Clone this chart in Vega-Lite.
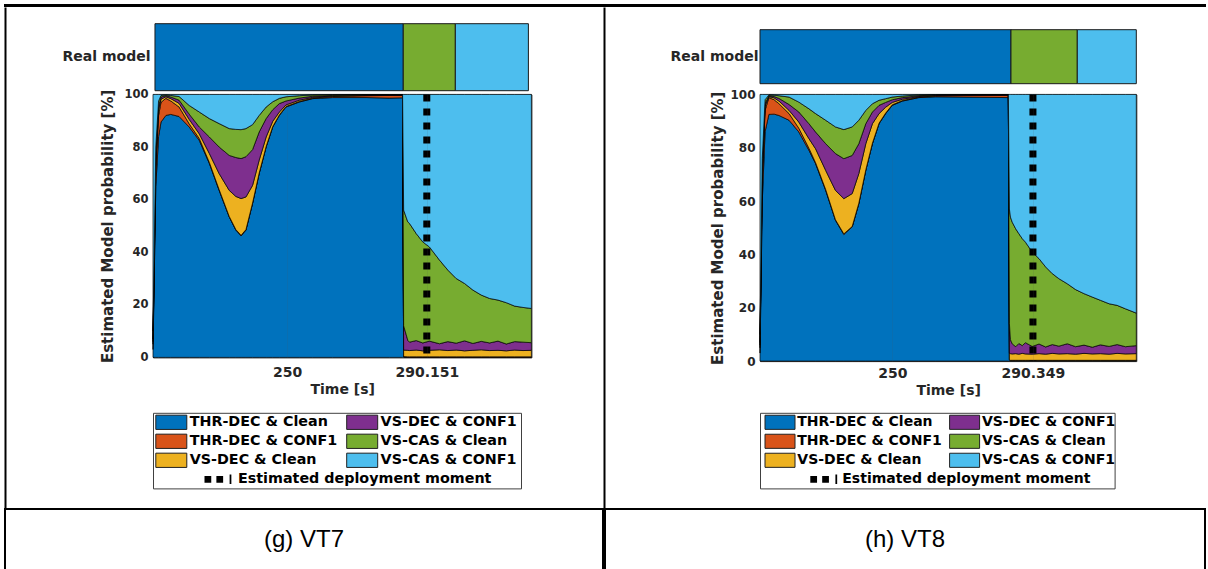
{
  "$schema": "https://vega.github.io/schema/vega-lite/v6.json",
  "padding": {"left": 4, "top": 4, "right": 0, "bottom": 0},
  "background": "white",
  "config": {"view": {"stroke": null}, "font": "DejaVu Sans"},
  "datasets": {
    "models": [
      {"key": "a", "model": "THR-DEC & Clean", "k": 1},
      {"key": "b", "model": "THR-DEC & CONF1", "k": 2},
      {"key": "c", "model": "VS-DEC & Clean", "k": 3},
      {"key": "d", "model": "VS-DEC & CONF1", "k": 4},
      {"key": "e", "model": "VS-CAS & Clean", "k": 5},
      {"key": "f", "model": "VS-CAS & CONF1", "k": 6}
    ],
    "legend": [
      {"label": "THR-DEC & Clean", "legendCol": 0, "legendRow": 1},
      {"label": "THR-DEC & CONF1", "legendCol": 0, "legendRow": 2},
      {"label": "VS-DEC & Clean", "legendCol": 0, "legendRow": 3},
      {"label": "VS-DEC & CONF1", "legendCol": 1, "legendRow": 1},
      {"label": "VS-CAS & Clean", "legendCol": 1, "legendRow": 2},
      {"label": "VS-CAS & CONF1", "legendCol": 1, "legendRow": 3},
      {"label": "Estimated deployment moment", "legendCol": 0, "legendRow": 4}
    ],
    "strip1": [
      {"model": "THR-DEC & Clean", "start": 212.07, "end": 283.39},
      {"model": "VS-CAS & Clean", "start": 283.39, "end": 298.35},
      {"model": "VS-CAS & CONF1", "start": 298.35, "end": 319.34}
    ],
    "strip2": [
      {"model": "THR-DEC & Clean", "start": 212.05, "end": 284.05},
      {"model": "VS-CAS & Clean", "start": 284.05, "end": 303.07},
      {"model": "VS-CAS & CONF1", "start": 303.07, "end": 320.0}
    ],
    "deploy1": [{"t": 290.151}],
    "deploy2": [{"t": 290.349}],
    "p1": [
      {"t": 211.5, "a": 3, "b": 2, "c": 1, "d": 1, "e": 3, "f": 90},
      {"t": 212.3, "a": 65, "b": 7, "c": 2, "d": 2, "e": 4, "f": 20},
      {"t": 213.1, "a": 84, "b": 8, "c": 2, "d": 1.5, "e": 2, "f": 2.5},
      {"t": 213.8, "a": 89.5, "b": 7.5, "c": 1.2, "d": 0.8, "e": 0.6, "f": 0.4},
      {"t": 215.2, "a": 92, "b": 6.5, "c": 0.6, "d": 0.4, "e": 0.3, "f": 0.2},
      {"t": 216.6, "a": 92.4, "b": 5.1, "c": 0.9, "d": 0.6, "e": 0.6, "f": 0.4},
      {"t": 219.0, "a": 91.6, "b": 3.6, "c": 1.4, "d": 1.2, "e": 1.4, "f": 0.8},
      {"t": 221.9, "a": 87.6, "b": 1.2, "c": 1.7, "d": 2.0, "e": 3.3, "f": 4.2},
      {"t": 224.8, "a": 82.5, "b": 0.7, "c": 1.8, "d": 2.6, "e": 5.7, "f": 6.7},
      {"t": 227.7, "a": 73.7, "b": 0.4, "c": 3.4, "d": 6.3, "e": 7.0, "f": 9.2},
      {"t": 230.5, "a": 63.5, "b": 0.3, "c": 6.1, "d": 10.1, "e": 8.9, "f": 11.1},
      {"t": 233.4, "a": 53.4, "b": 0.2, "c": 9.9, "d": 13.3, "e": 10.2, "f": 13.0},
      {"t": 235.3, "a": 48.4, "b": 0.2, "c": 12.6, "d": 14.8, "e": 10.7, "f": 13.3},
      {"t": 236.8, "a": 46.2, "b": 0.2, "c": 14.0, "d": 15.2, "e": 11.0, "f": 13.4},
      {"t": 238.2, "a": 48.4, "b": 0.2, "c": 12.4, "d": 15.3, "e": 10.7, "f": 13.0},
      {"t": 240.1, "a": 58.5, "b": 0.2, "c": 6.7, "d": 13.6, "e": 9.5, "f": 11.5},
      {"t": 242.0, "a": 69.9, "b": 0.2, "c": 4.9, "d": 10.7, "e": 6.3, "f": 8.0},
      {"t": 244.0, "a": 80.0, "b": 0.2, "c": 3.6, "d": 7.0, "e": 4.4, "f": 4.8},
      {"t": 245.9, "a": 87.6, "b": 0.2, "c": 2.0, "d": 4.4, "e": 3.0, "f": 2.8},
      {"t": 247.8, "a": 92.0, "b": 0.2, "c": 1.1, "d": 3.2, "e": 2.0, "f": 1.5},
      {"t": 249.7, "a": 95.2, "b": 0.2, "c": 0.6, "d": 1.5, "e": 1.6, "f": 0.9},
      {"t": 253.5, "a": 97.1, "b": 0.2, "c": 0.5, "d": 0.8, "e": 0.9, "f": 0.5},
      {"t": 257.4, "a": 98.4, "b": 0.2, "c": 0.3, "d": 0.4, "e": 0.5, "f": 0.2},
      {"t": 263.1, "a": 98.8, "b": 0.4, "c": 0.2, "d": 0.2, "e": 0.3, "f": 0.1},
      {"t": 272.7, "a": 98.8, "b": 0.7, "c": 0.15, "d": 0.15, "e": 0.15, "f": 0.05},
      {"t": 279.4, "a": 98.6, "b": 1.0, "c": 0.1, "d": 0.1, "e": 0.15, "f": 0.05},
      {"t": 283.2, "a": 98.7, "b": 0.9, "c": 0.1, "d": 0.1, "e": 0.15, "f": 0.05},
      {"t": 283.5, "a": 0.2, "b": 0.1, "c": 2.5, "d": 9.2, "e": 44.0, "f": 44.0},
      {"t": 284.7, "a": 0.1, "b": 0.1, "c": 2.5, "d": 3.8, "e": 45.0, "f": 48.5},
      {"t": 285.2, "a": 0.1, "b": 0.1, "c": 2.4, "d": 3.2, "e": 45.1, "f": 49.1},
      {"t": 287.1, "a": 0.1, "b": 0.1, "c": 2.6, "d": 3.6, "e": 40.7, "f": 52.9},
      {"t": 289.0, "a": 0.1, "b": 0.1, "c": 2.3, "d": 3.0, "e": 38.4, "f": 56.1},
      {"t": 290.9, "a": 0.1, "b": 0.1, "c": 2.5, "d": 3.5, "e": 35.8, "f": 58.0},
      {"t": 293.8, "a": 0.1, "b": 0.1, "c": 2.7, "d": 2.3, "e": 31.8, "f": 63.0},
      {"t": 296.2, "a": 0.1, "b": 0.1, "c": 2.4, "d": 3.4, "e": 27.2, "f": 66.8},
      {"t": 298.6, "a": 0.1, "b": 0.1, "c": 2.6, "d": 2.6, "e": 24.6, "f": 70.0},
      {"t": 301.0, "a": 0.1, "b": 0.1, "c": 2.3, "d": 3.8, "e": 21.8, "f": 71.9},
      {"t": 303.4, "a": 0.1, "b": 0.1, "c": 2.5, "d": 2.6, "e": 20.3, "f": 74.4},
      {"t": 305.8, "a": 0.1, "b": 0.1, "c": 2.7, "d": 3.2, "e": 17.6, "f": 76.3},
      {"t": 308.2, "a": 0.1, "b": 0.1, "c": 2.4, "d": 2.9, "e": 16.9, "f": 77.6},
      {"t": 310.6, "a": 0.1, "b": 0.1, "c": 2.5, "d": 3.5, "e": 15.6, "f": 78.2},
      {"t": 313.0, "a": 0.1, "b": 0.1, "c": 2.3, "d": 2.6, "e": 15.7, "f": 79.2},
      {"t": 315.4, "a": 0.1, "b": 0.1, "c": 2.6, "d": 3.2, "e": 13.5, "f": 80.5},
      {"t": 317.8, "a": 0.1, "b": 0.1, "c": 2.4, "d": 3.2, "e": 13.2, "f": 81.0},
      {"t": 320.2, "a": 0.1, "b": 0.1, "c": 2.5, "d": 2.9, "e": 13.0, "f": 81.4}
    ],
    "p2": [
      {"t": 212.05, "a": 3, "b": 2, "c": 1, "d": 1, "e": 3, "f": 90},
      {"t": 212.7, "a": 60, "b": 8, "c": 2, "d": 2, "e": 4, "f": 24},
      {"t": 213.5, "a": 86, "b": 8, "c": 1.5, "d": 1, "e": 1.5, "f": 2},
      {"t": 214.6, "a": 92.5, "b": 6.3, "c": 0.4, "d": 0.3, "e": 0.3, "f": 0.2},
      {"t": 216.1, "a": 92.6, "b": 5.4, "c": 0.7, "d": 0.5, "e": 0.5, "f": 0.3},
      {"t": 217.5, "a": 92.1, "b": 4.4, "c": 1.0, "d": 1.0, "e": 1.0, "f": 0.5},
      {"t": 220.4, "a": 90.3, "b": 2.5, "c": 1.2, "d": 2.2, "e": 2.8, "f": 1.0},
      {"t": 223.2, "a": 85.9, "b": 1.4, "c": 2.3, "d": 3.8, "e": 3.7, "f": 2.9},
      {"t": 226.1, "a": 79.0, "b": 0.8, "c": 3.6, "d": 5.6, "e": 5.6, "f": 5.4},
      {"t": 228.0, "a": 74.0, "b": 0.4, "c": 5.2, "d": 6.3, "e": 6.9, "f": 7.2},
      {"t": 230.9, "a": 64.0, "b": 0.3, "c": 7.2, "d": 10.0, "e": 8.8, "f": 9.7},
      {"t": 233.7, "a": 52.8, "b": 0.2, "c": 11.0, "d": 13.8, "e": 10.0, "f": 12.2},
      {"t": 236.1, "a": 47.5, "b": 0.2, "c": 13.2, "d": 15.0, "e": 10.9, "f": 13.2},
      {"t": 238.5, "a": 50.3, "b": 0.2, "c": 12.3, "d": 14.3, "e": 10.7, "f": 12.2},
      {"t": 240.4, "a": 59.0, "b": 0.2, "c": 11.1, "d": 11.2, "e": 8.8, "f": 9.7},
      {"t": 242.4, "a": 71.5, "b": 0.2, "c": 9.8, "d": 7.5, "e": 5.0, "f": 6.0},
      {"t": 244.3, "a": 81.5, "b": 0.2, "c": 7.3, "d": 4.4, "e": 3.1, "f": 3.5},
      {"t": 246.2, "a": 89.0, "b": 0.2, "c": 3.6, "d": 3.1, "e": 1.9, "f": 2.2},
      {"t": 248.1, "a": 92.8, "b": 0.2, "c": 2.2, "d": 1.8, "e": 1.4, "f": 1.6},
      {"t": 250.0, "a": 95.9, "b": 0.2, "c": 0.9, "d": 1.0, "e": 1.0, "f": 1.0},
      {"t": 252.9, "a": 97.5, "b": 0.2, "c": 0.5, "d": 0.6, "e": 0.6, "f": 0.6},
      {"t": 257.6, "a": 98.8, "b": 0.2, "c": 0.2, "d": 0.3, "e": 0.3, "f": 0.2},
      {"t": 262.4, "a": 99.1, "b": 0.3, "c": 0.2, "d": 0.2, "e": 0.1, "f": 0.1},
      {"t": 272.0, "a": 99.0, "b": 0.6, "c": 0.1, "d": 0.15, "e": 0.1, "f": 0.05},
      {"t": 283.3, "a": 98.8, "b": 0.8, "c": 0.1, "d": 0.15, "e": 0.1, "f": 0.05},
      {"t": 283.6, "a": 0.4, "b": 0.1, "c": 2.5, "d": 11.0, "e": 43.0, "f": 43.0},
      {"t": 283.9, "a": 0.2, "b": 0.1, "c": 2.5, "d": 5.2, "e": 46.0, "f": 46.0},
      {"t": 284.4, "a": 0.2, "b": 0.1, "c": 2.4, "d": 3.8, "e": 45.6, "f": 47.9},
      {"t": 285.4, "a": 0.2, "b": 0.1, "c": 2.5, "d": 2.6, "e": 44.2, "f": 50.4},
      {"t": 286.3, "a": 0.2, "b": 0.1, "c": 2.3, "d": 4.0, "e": 41.2, "f": 52.2},
      {"t": 287.3, "a": 0.2, "b": 0.1, "c": 2.6, "d": 2.9, "e": 40.1, "f": 54.1},
      {"t": 288.2, "a": 0.2, "b": 0.1, "c": 2.4, "d": 4.2, "e": 37.7, "f": 55.4},
      {"t": 290.15, "a": 0.2, "b": 0.1, "c": 2.3, "d": 2.9, "e": 35.4, "f": 59.1},
      {"t": 292.1, "a": 0.2, "b": 0.1, "c": 2.5, "d": 3.6, "e": 32.0, "f": 61.6},
      {"t": 294.0, "a": 0.2, "b": 0.1, "c": 2.3, "d": 2.7, "e": 30.0, "f": 64.7},
      {"t": 295.9, "a": 0.2, "b": 0.1, "c": 2.6, "d": 3.3, "e": 26.6, "f": 67.2},
      {"t": 297.8, "a": 0.2, "b": 0.1, "c": 2.4, "d": 2.9, "e": 25.3, "f": 69.1},
      {"t": 300.2, "a": 0.2, "b": 0.1, "c": 2.5, "d": 3.7, "e": 22.5, "f": 71.0},
      {"t": 302.6, "a": 0.2, "b": 0.1, "c": 2.3, "d": 2.8, "e": 21.4, "f": 73.2},
      {"t": 305.0, "a": 0.2, "b": 0.1, "c": 2.6, "d": 3.1, "e": 19.3, "f": 74.7},
      {"t": 307.4, "a": 0.2, "b": 0.1, "c": 2.4, "d": 2.5, "e": 18.8, "f": 76.0},
      {"t": 309.7, "a": 0.2, "b": 0.1, "c": 2.5, "d": 3.3, "e": 16.7, "f": 77.2},
      {"t": 312.2, "a": 0.2, "b": 0.1, "c": 2.3, "d": 2.9, "e": 16.0, "f": 78.5},
      {"t": 314.5, "a": 0.2, "b": 0.1, "c": 2.6, "d": 3.3, "e": 14.7, "f": 79.1},
      {"t": 316.9, "a": 0.2, "b": 0.1, "c": 2.4, "d": 2.7, "e": 14.2, "f": 80.4},
      {"t": 320.0, "a": 0.2, "b": 0.1, "c": 2.5, "d": 3.0, "e": 12.2, "f": 82.0}
    ]
  },
  "spacing": 0,
  "vconcat": [
    {
      "width": 1200, "height": 1,
      "view": {"stroke": "black", "strokeWidth": 2},
      "data": {"values": [{"v": 0}]},
      "mark": {"type": "point", "opacity": 0, "size": 0}
    },
    {
      "spacing": 20,
      "hconcat": [
        {
          "width": 37, "height": 501,
          "data": {"values": [{"v": 0}]},
          "mark": {"type": "point", "opacity": 0, "size": 0},
          "encoding": {"y": {"field": "v", "type": "quantitative", "scale": {"domain": [0, 1]},
            "axis": {"domain": true, "domainColor": "black", "domainWidth": 2, "ticks": false, "labels": false, "grid": false, "title": null}}}
        },
        {
          "spacing": 3.7,
          "bounds": "flush",
          "vconcat": [
            {"width": 1, "height": 12.6, "data": {"values": [{"v": 0}]}, "mark": {"type": "point", "opacity": 0, "size": 0}},
            {
              "width": 378.4, "height": 67,
              "data": {"name": "strip1"},
              "mark": {"type": "rect", "stroke": "#1a1a1a", "strokeWidth": 1},
              "encoding": {
                "x": {"field": "start", "type": "quantitative", "scale": {"domain": [211.5, 320.2], "nice": false, "zero": false}, "axis": null},
                "x2": {"field": "end"},
                "y": {"datum": "Real model", "type": "nominal", "scale": {"paddingInner": 0, "paddingOuter": 0},
                  "axis": {"title": null, "ticks": false, "domain": false, "labelFont": "DejaVu Sans", "labelFontWeight": "bold", "labelFontSize": 14, "labelColor": "#262626", "labelPadding": 3}},
                "color": {"field": "model", "type": "nominal", "legend": null,
                  "scale": {"domain": ["THR-DEC & Clean", "THR-DEC & CONF1", "VS-DEC & Clean", "VS-DEC & CONF1", "VS-CAS & Clean", "VS-CAS & CONF1"], "range": ["#0072BD", "#D95319", "#EDB120", "#7E2F8E", "#77AC30", "#4DBEEE"]}}
              }
            },
            {
              "width": 378.4, "height": 263,
              "view": {"stroke": "#262626", "strokeWidth": 1},
              "layer": [
                {
                  "data": {"name": "p1"},
                  "transform": [
                    {"fold": ["a", "b", "c", "d", "e", "f"], "as": ["key", "p"]},
                    {"lookup": "key", "from": {"data": {"name": "models"}, "key": "key", "fields": ["model", "k"]}}
                  ],
                  "mark": {"type": "area", "stroke": "black", "strokeWidth": 0.7, "interpolate": "linear"},
                  "encoding": {
                    "x": {"field": "t", "type": "quantitative", "scale": {"domain": [211.5, 320.2], "nice": false, "zero": false},
                      "axis": {"values": [250, 290.151], "format": ".3~f", "title": "Time [s]", "labelFontSize": 14, "labelFontWeight": "bold", "labelColor": "#262626", "titleFontSize": 14, "titleFontWeight": "bold", "titleColor": "#262626", "ticks": false, "domain": false, "grid": true, "gridColor": "#555555", "gridOpacity": 0.12, "labelPadding": 8, "titlePadding": 3, "labelFlush": false, "zindex": 1}},
                    "y": {"field": "p", "type": "quantitative", "stack": "zero", "scale": {"domain": [0, 100], "nice": false},
                      "axis": {"values": [0, 20, 40, 60, 80, 100], "title": "Estimated Model probability [%]", "titleFontSize": 15, "titleFontWeight": "bold", "titleColor": "#262626", "labelFontSize": 11.5, "labelFontWeight": "bold", "labelColor": "#262626", "ticks": false, "domain": false, "grid": false, "labelPadding": 5, "titlePadding": 8}},
                    "color": {"field": "model", "type": "nominal", "legend": null,
                      "scale": {"domain": ["THR-DEC & Clean", "THR-DEC & CONF1", "VS-DEC & Clean", "VS-DEC & CONF1", "VS-CAS & Clean", "VS-CAS & CONF1"], "range": ["#0072BD", "#D95319", "#EDB120", "#7E2F8E", "#77AC30", "#4DBEEE"]}},
                    "order": {"field": "k", "type": "quantitative"}
                  }
                },
                {
                  "data": {"name": "deploy1"},
                  "mark": {"type": "rule", "color": "black", "strokeWidth": 7, "strokeDash": [7, 7]},
                  "encoding": {"x": {"field": "t", "type": "quantitative"}}
                }
              ]
            },
            {"width": 1, "height": 47.3, "data": {"values": [{"v": 0}]}, "mark": {"type": "point", "opacity": 0, "size": 0}},
            {
              "width": 368, "height": 75.6,
              "view": {"stroke": "#404040", "strokeWidth": 1},
              "data": {"name": "legend"},
              "encoding": {
                "x": {"field": "legendCol", "type": "quantitative", "scale": {"domain": [0, 1], "range": [18.3, 209.2]}, "axis": null},
                "y": {"field": "legendRow", "type": "quantitative", "scale": {"domain": [1, 4], "range": [9.5, 66.5]}, "axis": null}
              },
              "layer": [
                {
                  "transform": [{"filter": {"field": "legendRow", "lt": 4}}],
                  "mark": {"type": "point", "shape": "M-1,-0.46H1V0.46H-1Z", "size": 961, "filled": true, "opacity": 1, "stroke": "#222222", "strokeWidth": 1},
                  "encoding": {"color": {"field": "label", "type": "nominal", "legend": null,
                    "scale": {"domain": ["THR-DEC & Clean", "THR-DEC & CONF1", "VS-DEC & Clean", "VS-DEC & CONF1", "VS-CAS & Clean", "VS-CAS & CONF1"], "range": ["#0072BD", "#D95319", "#EDB120", "#7E2F8E", "#77AC30", "#4DBEEE"]}}}
                },
                {
                  "transform": [{"filter": {"field": "legendRow", "lt": 4}}],
                  "mark": {"type": "text", "align": "left", "baseline": "middle", "dx": 18.4, "font": "DejaVu Sans", "fontWeight": "bold", "fontSize": 14.3, "color": "black"},
                  "encoding": {"text": {"field": "label"}}
                },
                {
                  "transform": [{"filter": {"field": "legendRow", "equal": 4}}],
                  "mark": {"type": "point", "shape": "M-1,-0.25H-0.5V0.25H-1Z M-0.12,-0.25H0.38V0.25H-0.12Z M0.86,-0.35H0.99V0.35H0.86Z", "size": 729, "filled": true, "opacity": 1, "color": "black", "xOffset": 46.7}
                },
                {
                  "transform": [{"filter": {"field": "legendRow", "equal": 4}}],
                  "mark": {"type": "text", "align": "left", "baseline": "middle", "dx": 66.7, "font": "DejaVu Sans", "fontWeight": "bold", "fontSize": 14.3, "color": "black"},
                  "encoding": {"text": {"field": "label"}}
                }
              ]
            }
          ]
        },
        {
          "width": 96, "height": 501,
          "data": {"values": [{"v": 0}]},
          "mark": {"type": "point", "opacity": 0, "size": 0},
          "encoding": {"y": {"field": "v", "type": "quantitative", "scale": {"domain": [0, 1]},
            "axis": {"domain": true, "domainColor": "black", "domainWidth": 2, "ticks": false, "labels": false, "grid": false, "title": null, "offset": -50}}}
        },
        {
          "spacing": 10.7,
          "bounds": "flush",
          "vconcat": [
            {"width": 1, "height": 11.6, "data": {"values": [{"v": 0}]}, "mark": {"type": "point", "opacity": 0, "size": 0}},
            {
              "width": 376.3, "height": 54,
              "data": {"name": "strip2"},
              "mark": {"type": "rect", "stroke": "#1a1a1a", "strokeWidth": 1},
              "encoding": {
                "x": {"field": "start", "type": "quantitative", "scale": {"domain": [212.05, 320.0], "nice": false, "zero": false}, "axis": null},
                "x2": {"field": "end"},
                "y": {"datum": "Real model", "type": "nominal", "scale": {"paddingInner": 0, "paddingOuter": 0},
                  "axis": {"title": null, "ticks": false, "domain": false, "labelFont": "DejaVu Sans", "labelFontWeight": "bold", "labelFontSize": 14, "labelColor": "#262626", "labelPadding": 2}},
                "color": {"field": "model", "type": "nominal", "legend": null,
                  "scale": {"domain": ["THR-DEC & Clean", "THR-DEC & CONF1", "VS-DEC & Clean", "VS-DEC & CONF1", "VS-CAS & Clean", "VS-CAS & CONF1"], "range": ["#0072BD", "#D95319", "#EDB120", "#7E2F8E", "#77AC30", "#4DBEEE"]}}
              }
            },
            {
              "width": 376.3, "height": 266.7,
              "view": {"stroke": "#262626", "strokeWidth": 1},
              "layer": [
                {
                  "data": {"name": "p2"},
                  "transform": [
                    {"fold": ["a", "b", "c", "d", "e", "f"], "as": ["key", "p"]},
                    {"lookup": "key", "from": {"data": {"name": "models"}, "key": "key", "fields": ["model", "k"]}}
                  ],
                  "mark": {"type": "area", "stroke": "black", "strokeWidth": 0.7, "interpolate": "linear"},
                  "encoding": {
                    "x": {"field": "t", "type": "quantitative", "scale": {"domain": [212.05, 320.0], "nice": false, "zero": false},
                      "axis": {"values": [250, 290.349], "format": ".3~f", "title": "Time [s]", "labelFontSize": 14, "labelFontWeight": "bold", "labelColor": "#262626", "titleFontSize": 14, "titleFontWeight": "bold", "titleColor": "#262626", "ticks": false, "domain": false, "grid": true, "gridColor": "#555555", "gridOpacity": 0.12, "labelPadding": 5, "titlePadding": 3, "labelFlush": false, "zindex": 1}},
                    "y": {"field": "p", "type": "quantitative", "stack": "zero", "scale": {"domain": [0, 100], "nice": false},
                      "axis": {"values": [0, 20, 40, 60, 80, 100], "title": "Estimated Model probability [%]", "titleFontSize": 15, "titleFontWeight": "bold", "titleColor": "#262626", "labelFontSize": 12, "labelFontWeight": "bold", "labelColor": "#262626", "ticks": false, "domain": false, "grid": false, "labelPadding": 5, "titlePadding": 4}},
                    "color": {"field": "model", "type": "nominal", "legend": null,
                      "scale": {"domain": ["THR-DEC & Clean", "THR-DEC & CONF1", "VS-DEC & Clean", "VS-DEC & CONF1", "VS-CAS & Clean", "VS-CAS & CONF1"], "range": ["#0072BD", "#D95319", "#EDB120", "#7E2F8E", "#77AC30", "#4DBEEE"]}},
                    "order": {"field": "k", "type": "quantitative"}
                  }
                },
                {
                  "data": {"name": "deploy2"},
                  "mark": {"type": "rule", "color": "black", "strokeWidth": 7, "strokeDash": [7, 7]},
                  "encoding": {"x": {"field": "t", "type": "quantitative"}}
                }
              ]
            },
            {"width": 1, "height": 29.6, "data": {"values": [{"v": 0}]}, "mark": {"type": "point", "opacity": 0, "size": 0}},
            {
              "width": 354.6, "height": 75.6,
              "view": {"stroke": "#404040", "strokeWidth": 1},
              "data": {"name": "legend"},
              "encoding": {
                "x": {"field": "legendCol", "type": "quantitative", "scale": {"domain": [0, 1], "range": [20, 204.6]}, "axis": null},
                "y": {"field": "legendRow", "type": "quantitative", "scale": {"domain": [1, 4], "range": [9.5, 66.5]}, "axis": null}
              },
              "layer": [
                {
                  "transform": [{"filter": {"field": "legendRow", "lt": 4}}],
                  "mark": {"type": "point", "shape": "M-1,-0.47H1V0.47H-1Z", "size": 900, "filled": true, "opacity": 1, "stroke": "#222222", "strokeWidth": 1},
                  "encoding": {"color": {"field": "label", "type": "nominal", "legend": null,
                    "scale": {"domain": ["THR-DEC & Clean", "THR-DEC & CONF1", "VS-DEC & Clean", "VS-DEC & CONF1", "VS-CAS & Clean", "VS-CAS & CONF1"], "range": ["#0072BD", "#D95319", "#EDB120", "#7E2F8E", "#77AC30", "#4DBEEE"]}}}
                },
                {
                  "transform": [{"filter": {"field": "legendRow", "lt": 4}}],
                  "mark": {"type": "text", "align": "left", "baseline": "middle", "dx": 17.3, "font": "DejaVu Sans", "fontWeight": "bold", "fontSize": 14, "color": "black"},
                  "encoding": {"text": {"field": "label"}}
                },
                {
                  "transform": [{"filter": {"field": "legendRow", "equal": 4}}],
                  "mark": {"type": "point", "shape": "M-1,-0.25H-0.5V0.25H-1Z M-0.12,-0.25H0.38V0.25H-0.12Z M0.86,-0.35H0.99V0.35H0.86Z", "size": 729, "filled": true, "opacity": 1, "color": "black", "xOffset": 43.8}
                },
                {
                  "transform": [{"filter": {"field": "legendRow", "equal": 4}}],
                  "mark": {"type": "text", "align": "left", "baseline": "middle", "dx": 62.3, "font": "DejaVu Sans", "fontWeight": "bold", "fontSize": 14, "color": "black"},
                  "encoding": {"text": {"field": "label"}}
                }
              ]
            }
          ]
        },
        {
          "width": 51, "height": 501,
          "data": {"values": [{"v": 0}]},
          "mark": {"type": "point", "opacity": 0, "size": 0},
          "encoding": {"y": {"field": "v", "type": "quantitative", "scale": {"domain": [0, 1]},
            "axis": {"orient": "right", "domain": true, "domainColor": "black", "domainWidth": 2, "ticks": false, "labels": false, "grid": false, "title": null}}}
        }
      ]
    },
    {
      "spacing": 0,
      "hconcat": [
        {
          "width": 598, "height": 61,
          "view": {"stroke": "black", "strokeWidth": 2},
          "data": {"values": [{"caption": "(g) VT7"}]},
          "mark": {"type": "text", "font": "Liberation Sans Narrow, Liberation Sans, sans-serif", "fontSize": 24, "color": "black", "baseline": "middle"},
          "encoding": {"text": {"field": "caption"}}
        },
        {
          "width": 600, "height": 61,
          "view": {"stroke": "black", "strokeWidth": 2},
          "data": {"values": [{"caption": "(h) VT8"}]},
          "mark": {"type": "text", "font": "Liberation Sans Narrow, Liberation Sans, sans-serif", "fontSize": 24, "color": "black", "baseline": "middle"},
          "encoding": {"text": {"field": "caption"}}
        }
      ]
    }
  ]
}
